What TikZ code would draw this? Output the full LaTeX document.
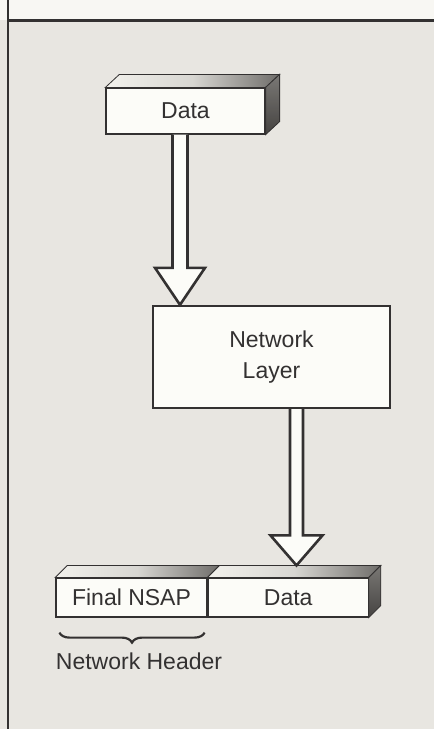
\documentclass[tikz,border=0pt]{standalone}
\usepackage{fontspec}
\setmainfont{Liberation Sans}
\usetikzlibrary{calc,decorations.pathreplacing}

\definecolor{paper}{HTML}{E8E6E1}
\definecolor{band}{HTML}{F8F7F3}
\definecolor{ink}{HTML}{333131}
\definecolor{front}{HTML}{FCFCF8}
\definecolor{topl}{HTML}{F2F1EC}
\definecolor{topd}{HTML}{6E6C69}
\definecolor{sidel}{HTML}{7A7875}
\definecolor{sided}{HTML}{454341}

\tikzset{
  label text/.style={font=\fontsize{23}{31}\selectfont, text=ink},
  frontbox/.style={draw=ink, line width=1.2pt, fill=front, inner sep=0pt,
                   label text, align=center},
  layerbox/.style={frontbox, line width=2.4pt},
  arrowline/.style={draw=ink, line width=2.6pt, fill=front, line join=miter},
  edgeline/.style={draw=ink, line width=0.8pt},
}

% hollow block arrow: from, to, shaft half width, head half width, head length
\newcommand\hollowarrow[5]{%
  \draw[arrowline] ($(#1)+(-#3,0)$) -- ($(#2)+(-#3,-#5)$) -- ($(#2)+(-#4,-#5)$)
    -- (#2) -- ($(#2)+(#4,-#5)$) -- ($(#2)+(#3,-#5)$) -- ($(#1)+(#3,0)$);}

% slanted top face over a box front, with depth dx, dy
\newcommand\topface[4]{% node, dx, dy
  \draw[edgeline, left color=topl, right color=topd, middle color=topl!80!topd]
    (#1.north west) -- ++(#2,-#3) -- ($(#1.north east)+(#4,-#3)$)
    -- (#1.north east) -- cycle;}
\newcommand\sideface[3]{% node, dx, dy
  \draw[edgeline, top color=sidel, bottom color=sided]
    (#1.north east) -- ++(#2,-#3) -- ($(#1.south east)+(#2,-#3)$)
    -- (#1.south east) -- cycle;}

\begin{document}
\begin{tikzpicture}[x=1pt, y=-1pt]
  \useasboundingbox (0,0) rectangle (434,729);
  \fill[paper] (0,0) rectangle (434,729);
  \fill[band] (0,0) rectangle (434,20);
  \draw[ink, line width=2.6pt] (8,20.5) -- (434,20.5);
  \draw[ink, line width=1.8pt] (8,0) -- (8,729);

  % upper data block
  \node[frontbox, minimum width=159, minimum height=46] (data) at (185.5,111) {Data};
  \topface{data}{14}{13}{14}
  \sideface{data}{14}{13}

  % network layer
  \node[layerbox, minimum width=237, minimum height=102] (net) at (271.5,357)
    {Network\\Layer};

  % packet leaving the layer
  \node[frontbox, minimum width=151, minimum height=39] (nsap) at (131.5,597.5)
    {Final NSAP};
  \node[frontbox, minimum width=160, minimum height=39, anchor=west] (pdata)
    at (nsap.east) {Data};
  \topface{nsap}{12}{12}{12}
  \topface{pdata}{12}{12}{12}
  \sideface{pdata}{12}{12}

  % arrows
  \coordinate (a1s) at ([xshift=-5.5pt]data.south);
  \coordinate (a1e) at (a1s |- net.north);
  \hollowarrow{a1s}{a1e}{7.5}{25}{37}

  \coordinate (a2s) at ([xshift=25pt]net.south);
  \coordinate (a2e) at ($(a2s |- pdata.north)+(0,-12)$);
  \hollowarrow{a2s}{a2e}{6.5}{26}{30}

  % header brace
  \draw[decorate, decoration={brace, mirror, amplitude=10pt}, ink, line width=2.2pt]
    ($(nsap.south west)+(4,15)$) coordinate (b1) -- ($(nsap.south east)+(-3,15)$) coordinate (b2);
  \node[label text] (hdr) at (139,661) {Network Header};
\end{tikzpicture}
\end{document}
